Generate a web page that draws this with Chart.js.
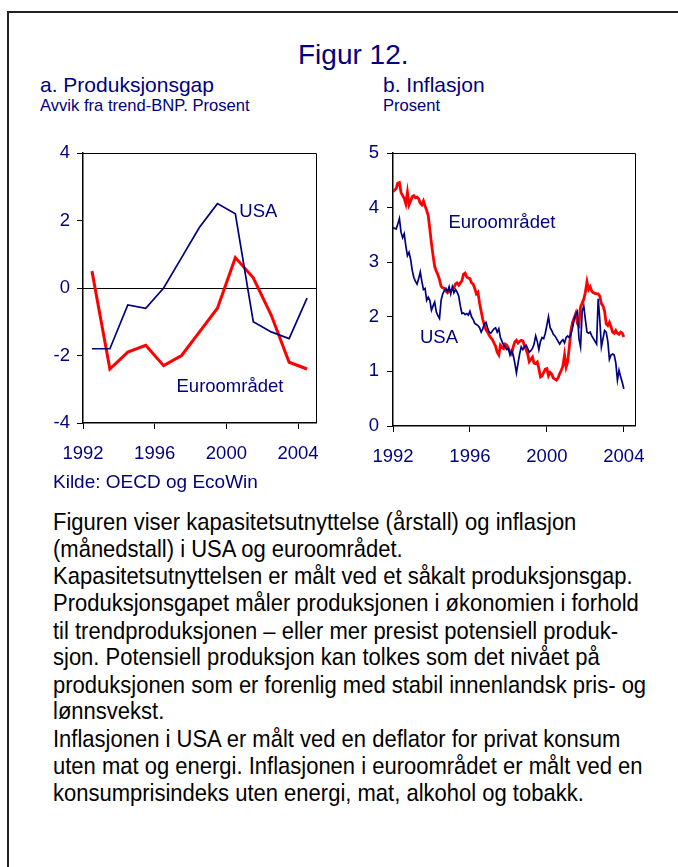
<!DOCTYPE html>
<html>
<head>
<meta charset="utf-8">
<script src="https://cdn.jsdelivr.net/npm/chart.js@4/dist/chart.umd.min.js"></script>
<style>
  html, body { margin:0; padding:0; background:#fff; width:678px; height:867px; overflow:hidden; }
  body { position:relative; font-family:"Liberation Sans", Arial, sans-serif; }
  .frame { position:absolute; left:7px; top:11px; width:700px; height:900px; border-left:2px solid #222; border-top:2px solid #222; }
  .t { position:absolute; white-space:nowrap; color:#000080; }
  canvas { position:absolute; }
  .body { position:absolute; left:53px; top:508.6px; font-size:22px; line-height:24.64px; color:#000; white-space:nowrap; transform:scaleY(1.1); transform-origin:0 0; }
</style>
</head>
<body>
<div class="frame"></div>
<div class="t" style="left:298px; top:41.3px; font-size:28px; line-height:28px;">Figur 12.</div>
<div class="t" style="left:40px; top:74.2px; font-size:21px; line-height:21px;">a. Produksjonsgap</div>
<div class="t" style="left:40px; top:98px; font-size:16.6px; line-height:16.6px;">Avvik fra trend-BNP. Prosent</div>
<div class="t" style="left:383px; top:74.2px; font-size:21px; line-height:21px;">b. Inflasjon</div>
<div class="t" style="left:383px; top:98px; font-size:16.6px; line-height:16.6px;">Prosent</div>
<canvas id="cA" width="300" height="333" style="left:30px; top:140px;"></canvas>
<canvas id="cB" width="310" height="336" style="left:340px; top:140px;"></canvas>
<div class="t" style="left:53px; top:471.7px; font-size:19px; line-height:19px;">Kilde: OECD og EcoWin</div>
<div class="body">
<div>Figuren viser kapasitetsutnyttelse (årstall) og inflasjon</div>
<div>(månedstall) i USA og euroområdet.</div>
<div>Kapasitetsutnyttelsen er målt ved et såkalt produksjonsgap.</div>
<div>Produksjonsgapet måler produksjonen i økonomien i forhold</div>
<div>til trendproduksjonen – eller mer presist potensiell produk-</div>
<div>sjon. Potensiell produksjon kan tolkes som det nivået på</div>
<div>produksjonen som er forenlig med stabil innenlandsk pris- og</div>
<div>lønnsvekst.</div>
<div>Inflasjonen i USA er målt ved en deflator for privat konsum</div>
<div>uten mat og energi. Inflasjonen i euroområdet er målt ved en</div>
<div>konsumprisindeks uten energi, mat, alkohol og tobakk.</div>
</div>
<script>
// ---- Data ----
const gapYears = [1992,1993,1994,1995,1996,1997,1998,1999,2000,2001,2002,2003,2004];
const gapUSA  = [-1.8,-1.8,-0.5,-0.6,0.0,0.9,1.8,2.5,2.2,-1.0,-1.3,-1.5,-0.3];
const gapEuro = [0.5,-2.4,-1.9,-1.7,-2.3,-2.0,-1.3,-0.6,0.9,0.3,-0.8,-2.2,-2.4];

const inflStartYear = 1992; // monthly, Jan 1992 - Jan 2004
const inflUSA = [
 3.63,3.62,3.61,3.70,3.80,3.55,3.45,3.52,3.30,3.12,3.18,3.05,
 2.85,2.72,2.65,2.60,2.70,2.82,2.65,2.50,2.52,2.30,2.36,2.30,
 2.12,2.20,2.27,2.09,2.02,1.97,2.30,2.42,2.48,2.52,2.46,2.55,
 2.42,2.55,2.44,2.50,2.45,2.38,2.20,2.06,2.07,2.04,2.06,2.03,
 2.10,2.00,1.95,1.88,1.86,1.84,1.80,1.72,1.78,1.87,1.90,1.80,
 1.72,1.70,1.74,1.78,1.80,1.72,1.78,1.62,1.55,1.48,1.45,1.40,
 1.42,1.30,1.38,1.30,1.15,0.97,1.15,1.32,1.45,1.40,1.45,1.48,
 1.42,1.35,1.38,1.42,1.50,1.65,1.55,1.40,1.55,1.62,1.60,1.70,
 1.85,2.00,1.80,1.75,1.68,1.65,1.60,1.55,1.50,1.55,1.58,1.52,
 1.62,1.65,1.62,1.68,1.80,1.95,2.05,2.10,1.60,1.45,2.10,2.20,
 1.95,1.72,1.70,1.72,1.65,1.60,1.55,1.50,2.33,1.95,1.45,1.60,
 1.75,1.72,1.55,1.22,1.30,1.32,1.30,1.15,0.84,1.02,0.90,0.80,
 0.68
];
const inflEuro = [
 4.29,4.32,4.35,4.45,4.46,4.28,4.22,4.17,4.07,4.28,4.05,4.12,
 4.20,4.22,4.18,4.19,4.16,4.08,4.05,4.12,4.03,3.95,3.85,3.60,
 3.34,3.12,2.92,2.84,2.77,2.68,2.56,2.53,2.52,2.47,2.44,2.47,
 2.48,2.50,2.53,2.60,2.62,2.58,2.62,2.66,2.78,2.80,2.73,2.71,
 2.70,2.62,2.60,2.52,2.42,2.45,2.25,2.10,1.95,1.85,1.76,1.72,
 1.66,1.62,1.58,1.52,1.46,1.35,1.30,1.48,1.44,1.42,1.50,1.48,
 1.42,1.36,1.32,1.45,1.54,1.57,1.52,1.55,1.57,1.56,1.47,1.40,
 1.32,1.18,1.22,1.26,1.15,1.14,1.17,1.05,0.90,0.92,0.98,1.04,
 1.05,0.92,0.98,0.95,0.88,0.86,0.84,0.88,0.96,1.02,1.10,1.30,
 1.08,1.18,1.45,1.75,1.90,1.98,2.06,1.88,1.84,2.18,2.25,2.32,
 2.45,2.64,2.50,2.55,2.47,2.44,2.43,2.42,2.42,2.38,2.24,2.20,
 2.10,1.87,1.84,1.90,1.82,1.72,1.70,1.75,1.70,1.68,1.72,1.70,
 1.63
];

const xTickYears = [1992,1996,2000,2004];
const yTicksA = [-4,-2,0,2,4];
const yTicksB = [0,1,2,3,4,5];

const seriesNames = ['USA','Euroområdet'];

// ---- Styles ----
const NAVY = '#000080';
const RED = '#ff0000';
const TICK_FONT = { family: '"Liberation Sans", Arial, sans-serif', size: 18.5 };

const annualPts = (vals) => vals.map((v,i) => ({ x: gapYears[i] + 0.5, y: v }));
const monthlyPts = (vals) => vals.map((v,i) => ({ x: inflStartYear + i/12, y: v }));

const boxPlugin = {
  id: 'box',
  beforeDatasetsDraw(chart, args, opts) {
    const {ctx, chartArea:a, scales} = chart;
    if (opts.zero) {
      const y = Math.round(scales.y.getPixelForValue(0)) + 0.5;
      ctx.save();
      ctx.strokeStyle = '#000'; ctx.lineWidth = 1;
      ctx.beginPath(); ctx.moveTo(a.left, y); ctx.lineTo(a.right, y); ctx.stroke();
      ctx.restore();
    }
  },
  afterDatasetsDraw(chart, args, opts) {
    const {ctx, chartArea:a, scales} = chart;
    ctx.save();
    ctx.strokeStyle = '#000'; ctx.lineWidth = 1;
    ctx.beginPath();
    ctx.moveTo(a.left, Math.round(a.top)+0.5);
    ctx.lineTo(Math.round(a.right)+0.5, Math.round(a.top)+0.5);
    ctx.lineTo(Math.round(a.right)+0.5, a.bottom);
    ctx.stroke();
    ctx.fillStyle = NAVY;
    ctx.font = '18.5px "Liberation Sans", Arial, sans-serif';
    ctx.textAlign = 'center'; ctx.textBaseline = 'middle';
    (opts.labels || []).forEach(l => {
      ctx.fillText(l.text, scales.x.getPixelForValue(l.x), scales.y.getPixelForValue(l.y));
    });
    ctx.restore();
  }
};

function zeroPad(s) { s.paddingTop = 0; s.paddingBottom = 0; s.paddingLeft = 0; s.paddingRight = 0; }

function makeChart(id, cfg) {
  return new Chart(document.getElementById(id), {
    type: 'line',
    data: { datasets: cfg.datasets },
    options: {
      responsive: false, animation: false, devicePixelRatio: 1,
      layout: { padding: { left: 0, right: cfg.padRight, top: 13, bottom: 0 } },
      elements: { point: { radius: 0 }, line: { tension: 0 } },
      plugins: { legend: { display: false }, tooltip: { enabled: false }, box: cfg.box },
      scales: {
        x: {
          type: 'linear', min: 1992, max: cfg.xMax,
          afterBuildTicks: s => { s.ticks = xTickYears.map(v => ({ value: v })); },
          afterFit: s => { s.height = 50; zeroPad(s); },
          grid: { drawOnChartArea: false, drawTicks: true, tickLength: 6, color: '#000', tickColor: '#000', tickWidth: 1 },
          border: { display: true, color: '#000', width: 1.5 },
          ticks: { color: NAVY, font: TICK_FONT, padding: cfg.xPad, maxRotation: 0, autoSkip: false, callback: v => String(v) }
        },
        y: {
          type: 'linear', min: cfg.yMin, max: cfg.yMax,
          afterBuildTicks: s => { s.ticks = cfg.yTicks.map(v => ({ value: v })); },
          afterFit: s => { s.width = 53; zeroPad(s); },
          grid: { drawOnChartArea: false, drawTicks: true, tickLength: 6, color: '#000', tickColor: '#000', tickWidth: 1 },
          border: { display: true, color: '#000', width: 1.5 },
          ticks: { color: NAVY, font: TICK_FONT, padding: cfg.yPad, callback: v => String(v) }
        }
      }
    },
    plugins: [boxPlugin]
  });
}

makeChart('cA', {
  datasets: [
    { label: seriesNames[0], data: annualPts(gapUSA), borderColor: NAVY, borderWidth: 1.7, fill: false },
    { label: seriesNames[1], data: annualPts(gapEuro), borderColor: RED, borderWidth: 3, fill: false }
  ],
  padRight: 14, xMax: 2005, yMin: -4, yMax: 4, yTicks: yTicksA, xPad: 14, yPad: 7,
  box: { zero: true, labels: [
    { text: seriesNames[0], x: 2001.78, y: 2.25 },
    { text: seriesNames[1], x: 2000.2, y: -2.93 }
  ] }
});

makeChart('cB', {
  datasets: [
    { label: seriesNames[0], data: monthlyPts(inflUSA), borderColor: NAVY, borderWidth: 1.7, fill: false },
    { label: seriesNames[1], data: monthlyPts(inflEuro), borderColor: RED, borderWidth: 2.8, fill: false }
  ],
  padRight: 15, xMax: 2004.58, yMin: 0, yMax: 5, yTicks: yTicksB, xPad: 14, yPad: 8,
  box: { zero: false, labels: [
    { text: seriesNames[1], x: 1997.66, y: 3.72 },
    { text: seriesNames[0], x: 1994.39, y: 1.61 }
  ] }
});
</script>
</body>
</html>
